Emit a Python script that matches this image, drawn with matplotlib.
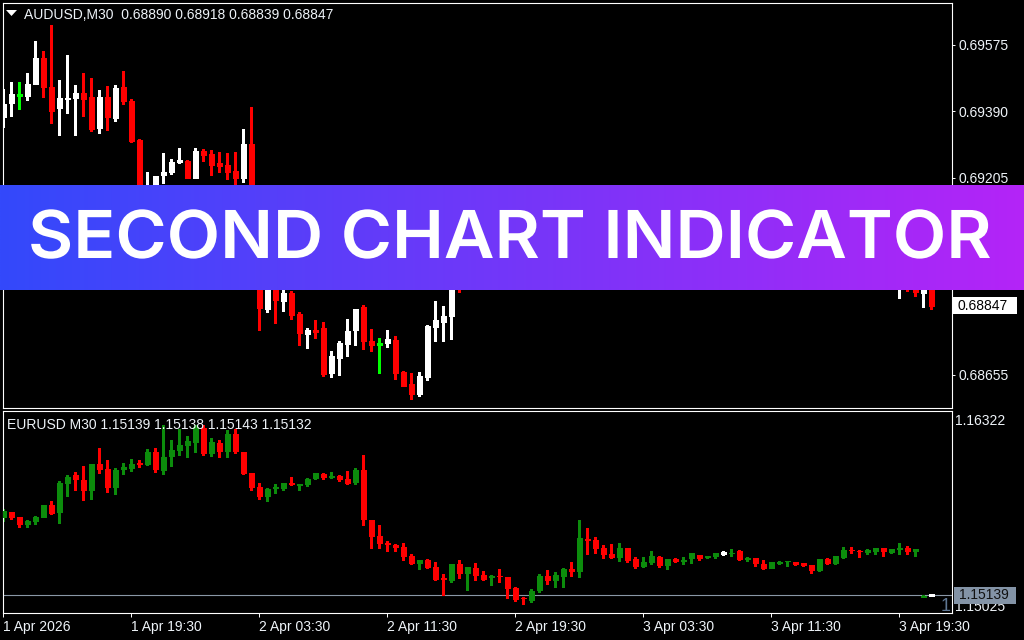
import numpy as np
import matplotlib
matplotlib.use("Agg")
import matplotlib.pyplot as plt
from matplotlib.patches import Polygon, Rectangle, PathPatch
from matplotlib.textpath import TextPath
from matplotlib.font_manager import FontProperties
from matplotlib.transforms import blended_transform_factory, Affine2D

# --- data (M30 candles) ---

aud_open = [0.69375, 0.69414, 0.69435, 0.69433, 0.69466, 0.69539, 0.69458, 0.69399, 0.69424, 0.69427,
            0.69441, 0.69430, 0.69343, 0.69430, 0.69371, 0.69458, 0.69419, 0.69310, 0.69101, 0.69143,
            0.69212, 0.69221, 0.69249, 0.69251, 0.69204, 0.69279, 0.69271, 0.69246, 0.69240, 0.69224,
            0.69204, 0.69299, 0.69031, 0.68838, 0.68919, 0.68861, 0.68883, 0.68825, 0.68769, 0.68780,
            0.68785, 0.68660, 0.68702, 0.68741, 0.68780, 0.68844, 0.68749, 0.68741, 0.68744, 0.68752,
            0.68663, 0.68629, 0.68601, 0.68649, 0.68788, 0.68802, 0.68819, 0.69003, 0.68919, 0.68945,
            0.68975, 0.68960, 0.68970, 0.68955, 0.68930, 0.68915, 0.68925, 0.68955, 0.69000, 0.68995,
            0.69015, 0.69030, 0.69025, 0.69120, 0.69115, 0.69095, 0.69080, 0.69075, 0.69105, 0.69070,
            0.69050, 0.69060, 0.69080, 0.69060, 0.69075, 0.69070, 0.69085, 0.69095, 0.69085, 0.69090,
            0.69100, 0.69095, 0.69110, 0.69085, 0.69090, 0.69070, 0.69055, 0.69075, 0.69080, 0.69075,
            0.69065, 0.69060, 0.69040, 0.69070, 0.69055, 0.69075, 0.69095, 0.69090, 0.69065, 0.69030,
            0.69000, 0.68970, 0.68930, 0.68940, 0.68897, 0.68883, 0.68890]
aud_high = [0.69452, 0.69472, 0.69472, 0.69497, 0.69586, 0.69558, 0.69631, 0.69477, 0.69547, 0.69463,
            0.69497, 0.69483, 0.69449, 0.69461, 0.69463, 0.69502, 0.69424, 0.69313, 0.69221, 0.69210,
            0.69274, 0.69257, 0.69288, 0.69254, 0.69288, 0.69285, 0.69282, 0.69277, 0.69274, 0.69277,
            0.69341, 0.69402, 0.69045, 0.68970, 0.68942, 0.68903, 0.68889, 0.68830, 0.68785, 0.68808,
            0.68802, 0.68721, 0.68749, 0.68811, 0.68838, 0.68850, 0.68783, 0.68758, 0.68780, 0.68763,
            0.68665, 0.68660, 0.68663, 0.68794, 0.68861, 0.68847, 0.68942, 0.69031, 0.68955, 0.68990,
            0.68995, 0.68985, 0.68990, 0.68970, 0.68945, 0.68935, 0.68965, 0.69010, 0.69020, 0.69025,
            0.69040, 0.69045, 0.69140, 0.69150, 0.69125, 0.69110, 0.69100, 0.69115, 0.69110, 0.69080,
            0.69070, 0.69090, 0.69085, 0.69085, 0.69085, 0.69090, 0.69100, 0.69100, 0.69095, 0.69105,
            0.69110, 0.69120, 0.69115, 0.69095, 0.69095, 0.69080, 0.69080, 0.69085, 0.69090, 0.69080,
            0.69075, 0.69065, 0.69075, 0.69075, 0.69080, 0.69100, 0.69105, 0.69095, 0.69070, 0.69040,
            0.69010, 0.68980, 0.68965, 0.68950, 0.68905, 0.68900, 0.68918]
aud_low = [0.69347, 0.69377, 0.69397, 0.69420, 0.69466, 0.69430, 0.69357, 0.69324, 0.69386, 0.69324,
           0.69377, 0.69335, 0.69330, 0.69338, 0.69363, 0.69410, 0.69304, 0.69129, 0.69081, 0.69129,
           0.69190, 0.69215, 0.69246, 0.69204, 0.69204, 0.69251, 0.69212, 0.69221, 0.69201, 0.69187,
           0.69193, 0.69045, 0.68780, 0.68830, 0.68799, 0.68833, 0.68811, 0.68738, 0.68730, 0.68758,
           0.68652, 0.68649, 0.68654, 0.68707, 0.68738, 0.68727, 0.68721, 0.68660, 0.68732, 0.68643,
           0.68624, 0.68587, 0.68596, 0.68640, 0.68749, 0.68749, 0.68755, 0.68886, 0.68900, 0.68930,
           0.68950, 0.68945, 0.68950, 0.68920, 0.68905, 0.68900, 0.68915, 0.68950, 0.68985, 0.68985,
           0.69000, 0.69015, 0.69020, 0.69090, 0.69085, 0.69070, 0.69065, 0.69060, 0.69060, 0.69040,
           0.69040, 0.69050, 0.69050, 0.69055, 0.69065, 0.69060, 0.69075, 0.69080, 0.69080, 0.69085,
           0.69090, 0.69090, 0.69080, 0.69075, 0.69060, 0.69045, 0.69050, 0.69065, 0.69070, 0.69060,
           0.69055, 0.69030, 0.69035, 0.69050, 0.69050, 0.69070, 0.69080, 0.69060, 0.69020, 0.68990,
           0.68960, 0.68930, 0.68869, 0.68889, 0.68875, 0.68844, 0.68839]
aud_close = [0.69410, 0.69438, 0.69435, 0.69466, 0.69539, 0.69458, 0.69391, 0.69427, 0.69427, 0.69441,
             0.69424, 0.69341, 0.69430, 0.69374, 0.69455, 0.69419, 0.69307, 0.69143, 0.69157, 0.69210,
             0.69221, 0.69249, 0.69254, 0.69204, 0.69279, 0.69268, 0.69240, 0.69237, 0.69221, 0.69204,
             0.69299, 0.69059, 0.68841, 0.68947, 0.68864, 0.68883, 0.68822, 0.68772, 0.68780, 0.68774,
             0.68657, 0.68707, 0.68744, 0.68777, 0.68838, 0.68749, 0.68738, 0.68741, 0.68755, 0.68660,
             0.68624, 0.68601, 0.68652, 0.68791, 0.68808, 0.68819, 0.68919, 0.68919, 0.68945, 0.68975,
             0.68960, 0.68970, 0.68955, 0.68930, 0.68915, 0.68925, 0.68955, 0.69000, 0.68995, 0.69015,
             0.69030, 0.69025, 0.69120, 0.69115, 0.69095, 0.69080, 0.69075, 0.69105, 0.69070, 0.69050,
             0.69060, 0.69080, 0.69060, 0.69075, 0.69070, 0.69085, 0.69095, 0.69085, 0.69090, 0.69100,
             0.69095, 0.69110, 0.69085, 0.69090, 0.69070, 0.69055, 0.69075, 0.69080, 0.69075, 0.69065,
             0.69060, 0.69040, 0.69070, 0.69055, 0.69075, 0.69095, 0.69090, 0.69065, 0.69030, 0.69000,
             0.68970, 0.68940, 0.68955, 0.68915, 0.68886, 0.68890, 0.68847]

eur_open = [1.15641, 1.15674, 1.15641, 1.15597, 1.15616, 1.15641, 1.15719, 1.15674, 1.15860, 1.15911,
            1.15879, 1.15815, 1.15982, 1.15950, 1.15834, 1.15950, 1.15956, 1.15988, 1.15982, 1.16059,
            1.15943, 1.16033, 1.16072, 1.16104, 1.16123, 1.16213, 1.16052, 1.16117, 1.16065, 1.16174,
            1.16059, 1.15924, 1.15834, 1.15776, 1.15828, 1.15828, 1.15860, 1.15847, 1.15853, 1.15892,
            1.15918, 1.15898, 1.15905, 1.15885, 1.15866, 1.15943, 1.15622, 1.15520, 1.15475, 1.15462,
            1.15449, 1.15391, 1.15346, 1.15365, 1.15321, 1.15250, 1.15237, 1.15340, 1.15282, 1.15314,
            1.15269, 1.15256, 1.15263, 1.15256, 1.15186, 1.15122, 1.15109, 1.15173, 1.15263, 1.15237,
            1.15263, 1.15308, 1.15295, 1.15500, 1.15494, 1.15442, 1.15404, 1.15385, 1.15442, 1.15372,
            1.15327, 1.15353, 1.15385, 1.15333, 1.15372, 1.15362, 1.15378, 1.15398, 1.15382, 1.15391,
            1.15410, 1.15408, 1.15423, 1.15372, 1.15378, 1.15340, 1.15314, 1.15348, 1.15357, 1.15353,
            1.15346, 1.15333, 1.15301, 1.15372, 1.15346, 1.15385, 1.15432, 1.15425, 1.15417, 1.15423,
            1.15442, 1.15417, 1.15436, 1.15442, 1.15423, 1.15130, 1.15139]
eur_high = [1.15693, 1.15674, 1.15641, 1.15622, 1.15648, 1.15719, 1.15744, 1.15873, 1.15911, 1.15930,
            1.15969, 1.15982, 1.16084, 1.16007, 1.15956, 1.15988, 1.16014, 1.16007, 1.16078, 1.16084,
            1.16232, 1.16136, 1.16206, 1.16162, 1.16232, 1.16232, 1.16149, 1.16136, 1.16200, 1.16206,
            1.16059, 1.15924, 1.15860, 1.15828, 1.15853, 1.15860, 1.15898, 1.15853, 1.15892, 1.15924,
            1.15924, 1.15930, 1.15911, 1.15937, 1.15956, 1.16040, 1.15622, 1.15590, 1.15487, 1.15468,
            1.15475, 1.15404, 1.15365, 1.15372, 1.15353, 1.15276, 1.15340, 1.15365, 1.15321, 1.15346,
            1.15295, 1.15269, 1.15308, 1.15256, 1.15192, 1.15128, 1.15179, 1.15276, 1.15301, 1.15288,
            1.15314, 1.15353, 1.15622, 1.15571, 1.15513, 1.15462, 1.15468, 1.15475, 1.15442, 1.15385,
            1.15385, 1.15423, 1.15391, 1.15372, 1.15378, 1.15385, 1.15410, 1.15398, 1.15391, 1.15410,
            1.15423, 1.15436, 1.15430, 1.15385, 1.15378, 1.15365, 1.15353, 1.15359, 1.15359, 1.15353,
            1.15346, 1.15333, 1.15372, 1.15378, 1.15391, 1.15449, 1.15449, 1.15430, 1.15436, 1.15442,
            1.15442, 1.15436, 1.15475, 1.15455, 1.15436, 1.15141, 1.15141]
eur_low = [1.15616, 1.15629, 1.15577, 1.15577, 1.15597, 1.15641, 1.15661, 1.15603, 1.15776, 1.15815,
           1.15751, 1.15757, 1.15924, 1.15802, 1.15789, 1.15918, 1.15937, 1.15962, 1.15975, 1.15930,
           1.15918, 1.15969, 1.16040, 1.16027, 1.16059, 1.16040, 1.16033, 1.16027, 1.16027, 1.16052,
           1.15918, 1.15815, 1.15757, 1.15744, 1.15796, 1.15815, 1.15847, 1.15815, 1.15840, 1.15885,
           1.15885, 1.15892, 1.15873, 1.15853, 1.15853, 1.15590, 1.15442, 1.15442, 1.15423, 1.15423,
           1.15365, 1.15340, 1.15308, 1.15314, 1.15237, 1.15141, 1.15224, 1.15250, 1.15173, 1.15237,
           1.15237, 1.15205, 1.15224, 1.15122, 1.15102, 1.15083, 1.15096, 1.15160, 1.15211, 1.15192,
           1.15192, 1.15263, 1.15256, 1.15404, 1.15410, 1.15378, 1.15378, 1.15359, 1.15353, 1.15314,
           1.15321, 1.15340, 1.15321, 1.15308, 1.15353, 1.15340, 1.15346, 1.15365, 1.15378, 1.15378,
           1.15398, 1.15391, 1.15365, 1.15359, 1.15327, 1.15308, 1.15314, 1.15340, 1.15327, 1.15333,
           1.15327, 1.15282, 1.15295, 1.15340, 1.15340, 1.15378, 1.15410, 1.15385, 1.15404, 1.15404,
           1.15391, 1.15410, 1.15404, 1.15404, 1.15391, 1.15128, 1.15135]
eur_close = [1.15680, 1.15641, 1.15597, 1.15616, 1.15641, 1.15719, 1.15667, 1.15860, 1.15898, 1.15885,
             1.15815, 1.15982, 1.15950, 1.15834, 1.15943, 1.15962, 1.15982, 1.15982, 1.16059, 1.15950,
             1.16027, 1.16072, 1.16104, 1.16129, 1.16219, 1.16052, 1.16123, 1.16065, 1.16174, 1.16065,
             1.15924, 1.15834, 1.15776, 1.15821, 1.15834, 1.15860, 1.15853, 1.15853, 1.15885, 1.15924,
             1.15898, 1.15905, 1.15885, 1.15860, 1.15943, 1.15629, 1.15520, 1.15475, 1.15468, 1.15449,
             1.15391, 1.15346, 1.15365, 1.15321, 1.15243, 1.15243, 1.15340, 1.15282, 1.15321, 1.15269,
             1.15243, 1.15263, 1.15260, 1.15186, 1.15115, 1.15119, 1.15166, 1.15263, 1.15237, 1.15269,
             1.15308, 1.15295, 1.15507, 1.15494, 1.15442, 1.15404, 1.15385, 1.15442, 1.15365, 1.15327,
             1.15353, 1.15391, 1.15333, 1.15372, 1.15359, 1.15368, 1.15410, 1.15378, 1.15388, 1.15410,
             1.15410, 1.15412, 1.15372, 1.15378, 1.15346, 1.15314, 1.15353, 1.15352, 1.15359, 1.15340,
             1.15333, 1.15301, 1.15372, 1.15346, 1.15391, 1.15430, 1.15428, 1.15421, 1.15430, 1.15442,
             1.15423, 1.15436, 1.15442, 1.15423, 1.15436, 1.15137, 1.15139]

aud_ticks = [0.69575, 0.69390, 0.69205, 0.69020, 0.68835, 0.68655]
aud_tick_labels = ["0.69575", "0.69390", "0.69205", "", "", "0.68655"]  # the other two sit under the banner / price tag
time_ticks = [0, 16, 32, 48, 64, 80, 96, 112]
time_labels = ["1 Apr 2026", "1 Apr 19:30", "2 Apr 03:30", "2 Apr 11:30",
               "2 Apr 19:30", "3 Apr 03:30", "3 Apr 11:30", "3 Apr 19:30"]

W, H = 1024, 640
plt.rcParams["font.family"] = ["Liberation Sans", "DejaVu Sans"]
TXT = "#eef3f8"


def px(x, y):
    """pixel position (top-left origin) -> figure fraction"""
    return x / W, 1 - y / H


def draw_candles(ax, o, h, l, c, up_col, down_col, doji_col, width=0.62):
    o, h, l, c = map(np.asarray, (o, h, l, c))
    x = np.arange(len(o))
    cols = np.where(c > o, up_col, np.where(c < o, down_col, doji_col))
    ax.vlines(x, l, h, colors=cols, linewidth=0.8, antialiased=False, zorder=2)
    body = c != o
    ax.bar(x[body], np.abs(c - o)[body], bottom=np.minimum(o, c)[body], width=width,
           color=cols[body], edgecolor=cols[body], linewidth=0.4, antialiased=False, zorder=3)
    ax.hlines(o[~body], x[~body] - width / 2, x[~body] + width / 2, colors=cols[~body],
              linewidth=0.8, antialiased=False, zorder=3)


def price_tag(ax, value, text, fc, tc, left_px, width_px, height_px):
    """boxed price label just right of the axes, centred on value"""
    tr = blended_transform_factory(ax.transAxes, ax.transData)
    ax_w = ax.get_position().width * W
    y0, y1 = ax.get_ylim()
    ppx = (y1 - y0) / (ax.get_position().height * H)
    ax.add_patch(Rectangle((1 + left_px / ax_w, value - height_px / 2 * ppx), width_px / ax_w,
                           height_px * ppx, transform=tr, fc=fc, ec="none", clip_on=False, zorder=5))
    ax.text(1 + (left_px + 5) / ax_w, value, text, transform=tr, ha="left", va="center",
            fontsize=10, color=tc, clip_on=False, zorder=6)


fig = plt.figure(figsize=(W / 100, H / 100), dpi=100, facecolor="black")

# x: candle i sits at pixel 3.3 + 8*i
xlim = ((3 - 3.3) / 8, (952 - 3.3) / 8)

# --- main window: AUDUSD ---
ax1 = fig.add_axes([3 / W, 1 - 408 / H, 949 / W, 405 / H], facecolor="black")
draw_candles(ax1, aud_open, aud_high, aud_low, aud_close, "white", "#ff0000", "#00ff00")
ax1.set_xlim(*xlim)
ax1.set_ylim(0.68562, 0.69692)
ax1.set_xticks([])
ax1.yaxis.tick_right()
ax1.set_yticks(aud_ticks)
ax1.set_yticklabels(aud_tick_labels)
ax1.tick_params(axis="y", colors="white", labelcolor=TXT, length=2.5, width=0.7,
                pad=2.5, labelsize=10)
for s in ax1.spines.values():
    s.set_color("white")
    s.set_linewidth(0.8)
price_tag(ax1, 0.68847, "0.68847", "white", "black", 1, 64, 17)

fig.text(*px(24, 19), "AUDUSD,M30  0.68890 0.68918 0.68839 0.68847", color=TXT,
         fontsize=10, va="baseline", ha="left")
tri = Polygon([[6 / 100, (H - 10) / 100], [17 / 100, (H - 10) / 100], [11.5 / 100, (H - 16) / 100]],
              closed=True, fc="white", ec="none", transform=fig.dpi_scale_trans)
fig.patches.append(tri)

# --- sub window: EURUSD drawn by the indicator ---
ax2 = fig.add_axes([3 / W, 1 - 613 / H, 949 / W, 202 / H], facecolor="black")
draw_candles(ax2, eur_open, eur_high, eur_low, eur_close, "#0c8c0c", "#ff0000", "white")
ax2.set_xlim(*xlim)
ax2.set_ylim(1.15025, 1.16322)
ax2.set_yticks([])
ax2.set_xticks(time_ticks)
ax2.set_xticklabels(time_labels, ha="left")
ax2.tick_params(axis="x", colors="white", labelcolor=TXT, length=3, width=0.7,
                pad=2, labelsize=10)
for s in ax2.spines.values():
    s.set_color("white")
    s.set_linewidth(0.8)
ax2.axhline(1.15139, color="#8a97a6", linewidth=0.8, zorder=1)

tr2 = blended_transform_factory(ax2.transAxes, ax2.transData)
ax2.annotate("1.16322", xy=(1.003, 1.16322), xycoords=tr2, xytext=(0, -3),
             textcoords="offset pixels", ha="left", va="top", fontsize=10, color=TXT,
             annotation_clip=False)
ax2.annotate("1.15025", xy=(1.003, 1.15025), xycoords=tr2, xytext=(0, -1),
             textcoords="offset pixels", ha="left", va="bottom", fontsize=10, color=TXT,
             annotation_clip=False, zorder=4)
price_tag(ax2, 1.15139, "1.15139", "#8393a6", "#111111", 2, 62, 17)
fig.text(*px(941, 611), "1", color="#5f7793", fontsize=13, va="baseline", ha="left")
fig.text(*px(7, 429), "EURUSD M30 1.15139 1.15138 1.15143 1.15132", color=TXT,
         fontsize=10, va="baseline", ha="left")

# --- banner across the chart (pixel coordinates inside the strip) ---
bax = fig.add_axes([0, 1 - 290 / H, 1, 105 / H], zorder=10)
bax.axis("off")
c0 = np.array([51, 73, 251]) / 255
c1 = np.array([180, 36, 247]) / 255
t = np.linspace(0, 1, 512)[None, :, None]
bax.imshow(c0 + (c1 - c0) * t, aspect="auto", extent=[0, W, 0, 105], interpolation="bilinear")
bax.set_xlim(0, W)
bax.set_ylim(0, 105)

# wide geometric caps: stretch a semibold sans to the banner text box (x 28..990, caps 210..258)
tp = TextPath((0, 0), "SECOND CHART INDICATOR", size=100,
              prop=FontProperties(family=["Inter", "DejaVu Sans"], weight="semibold"))
v = tp.vertices
x0, x1 = v[:, 0].min(), v[:, 0].max()
cap = 72.7  # cap height of the 100-unit glyphs
sx = (990 - 28) / (x1 - x0)
sy = 48 / cap
tf = Affine2D().translate(-x0, 0).scale(sx, sy).translate(28, 290 - 258)
bax.add_patch(PathPatch(tf.transform_path(tp), fc="white", ec="none", zorder=3))

fig.savefig("out.png", dpi=100, facecolor="black")
